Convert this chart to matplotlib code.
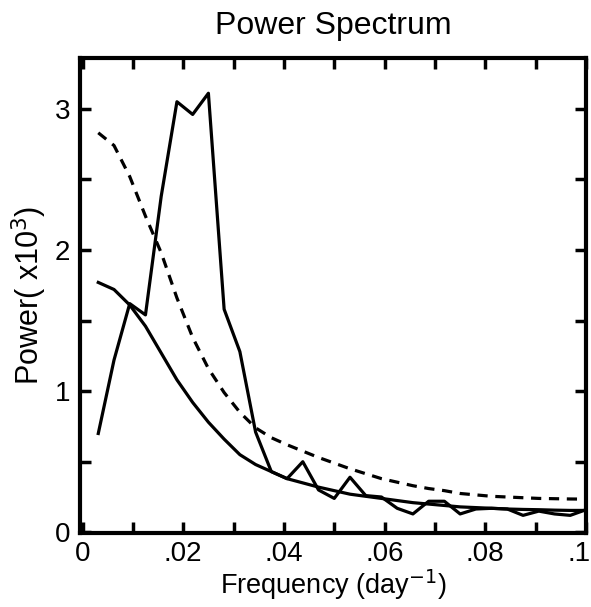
import numpy as np
import matplotlib
matplotlib.use('Agg')
import matplotlib.pyplot as plt
import matplotlib.transforms as mtransforms

plt.rcParams['font.family'] = ['Liberation Sans', 'DejaVu Sans']

# frequencies (day^-1), spectral estimates (x10^3)
freq = np.arange(1, 33) / 320.0

periodogram = [0.70, 1.22, 1.62, 1.54, 2.38, 3.05, 2.96, 3.11, 1.58, 1.28, 0.71, 0.43,
               0.38, 0.50, 0.30, 0.24, 0.39, 0.26, 0.25, 0.17, 0.13, 0.22, 0.22, 0.13,
               0.165, 0.17, 0.165, 0.12, 0.15, 0.13, 0.12, 0.16]

red_noise = [1.77, 1.72, 1.61, 1.46, 1.27, 1.08, 0.92, 0.78, 0.66, 0.55, 0.48, 0.43,
             0.38, 0.35, 0.32, 0.295, 0.27, 0.255, 0.24, 0.225, 0.21, 0.20, 0.19, 0.18,
             0.175, 0.17, 0.165, 0.162, 0.16, 0.157, 0.155, 0.155]

conf_level = [2.83, 2.74, 2.52, 2.24, 1.98, 1.66, 1.38, 1.16, 0.99, 0.85, 0.74, 0.67,
              0.62, 0.575, 0.53, 0.49, 0.45, 0.415, 0.38, 0.355, 0.33, 0.31, 0.295, 0.275,
              0.265, 0.255, 0.25, 0.245, 0.24, 0.238, 0.236, 0.235]

xticks = np.arange(0, 0.1001, 0.01)
xlabels = ['0', '', '.02', '', '.04', '', '.06', '', '.08', '', '.1']
yticks = np.arange(0, 3.01, 0.5)
ylabels = ['0', '', '1', '', '2', '', '3']

fig = plt.figure(figsize=(5.91, 6.07), dpi=100)
ax = fig.add_axes([0.1354, 0.1219, 0.8561, 0.7826])

ax.plot(freq, periodogram, color='black', lw=2.3)
ax.plot(freq, red_noise, color='black', lw=2.3)
ax.plot(freq, conf_level, color='black', lw=2.3, ls=(0, (3.2, 2.4)))

ax.set_xlim(-0.0005, 0.1)
ax.set_ylim(-0.005, 3.36)
ax.set_xticks(xticks)
ax.set_xticklabels(xlabels)
ax.set_yticks(yticks)
ax.set_yticklabels(ylabels)
ax.tick_params(direction='in', length=8, width=2.5, labelsize=20,
               top=True, right=True)
ax.tick_params(axis='x', pad=6)
ax.tick_params(axis='y', pad=7)
for s in ax.spines.values():
    s.set_linewidth(3)

# keep the last x label inside the figure, as in the original
last = ax.get_xticklabels()[-1]
last.set_transform(last.get_transform() +
                   mtransforms.ScaledTranslation(-5 / 72, 0, fig.dpi_scale_trans))

ax.set_title('Power Spectrum', fontsize=23, pad=17)
ax.set_xlabel('Frequency (day$^{\\mathrm{-1}}$)', fontsize=19.5, labelpad=0)
ax.set_ylabel('Power( x10$^3$)', fontsize=22, labelpad=4)

fig.savefig('out.png', dpi=100)
